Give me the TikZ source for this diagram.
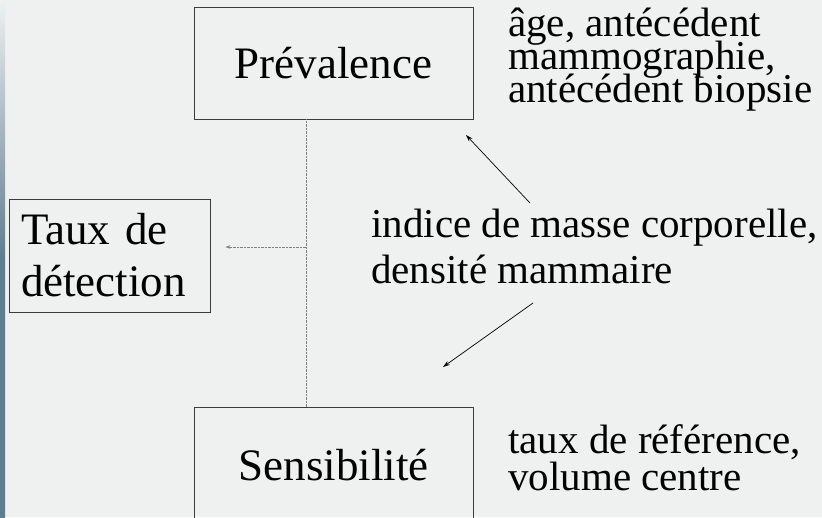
\documentclass[tikz,border=0pt]{standalone}
\usepackage{fontspec}
\setmainfont{Liberation Serif}
\usetikzlibrary{arrows.meta}

\definecolor{fond}{RGB}{238,241,240}
\definecolor{bord}{RGB}{95,125,145}
\definecolor{trait}{RGB}{60,60,60}
\newcommand{\fsz}[2]{\fontsize{#1}{#2}\selectfont\lineskiplimit=-50pt}

\tikzset{
  boite/.style={draw=trait, line width=0.8pt, inner sep=0pt},
  texte/.style={inner sep=0pt, align=left, anchor=base west},
  fleche/.style={line width=0.7pt, -{Stealth[length=7pt,width=4.5pt]}},
  pointille/.style={draw=gray, line width=0.5pt, dash pattern=on 0.7pt off 0.7pt}
}

\begin{document}
\begin{tikzpicture}[x=1pt, y=-1pt]
    % fond
    \useasboundingbox (0,0) rectangle (822,517);
    \clip (0,0) rectangle (822,517);
    \fill[fond] (0,0) rectangle (822,517);
    \shade[top color=fond, bottom color=bord, middle color=bord] (0,0) rectangle (5,517);

    % boites
    \node[boite, minimum width=279pt, minimum height=112pt, font=\fsz{45}{52}] (prev) at (333.5,63) {Prévalence};
    \node[boite, minimum width=279pt, minimum height=116pt, font=\fsz{45}{52}] (sens) at (333.5,465) {Sensibilité};
    \node[boite, text width=177pt, align=left, inner xsep=12pt, minimum height=113pt, font=\fsz{45}{52}] (taux) at (109.5,255.5) {Taux de\\détection};

    % facteurs (base = derniere ligne)
    \node[texte, font=\fsz{41}{33}] (age) at (508,102) {âge, antécédent\\mammographie,\\antécédent biopsie};
    \node[texte, font=\fsz{41}{46}] (imc) at (371,283) {indice de masse corporelle,\\densité mammaire};
    \node[texte, font=\fsz{41}{37}] (ref) at (508,490) {taux de référence,\\volume centre};

    % liens
    \coordinate (jct) at (306,247);
    \draw[pointille] (prev.south -| jct) -- (sens.north -| jct);
    \draw[pointille, -{Stealth[length=5pt,width=3.5pt]}, shorten >=15pt] (jct) -- (taux.east |- jct);

    \coordinate (a1s) at (530,203);
    \coordinate (a1e) at (466,135);
    \coordinate (a2s) at (533,303);
    \coordinate (a2e) at (443,367);
    \draw[fleche] (a1s) -- (a1e);
    \draw[fleche] (a2s) -- (a2e);
\end{tikzpicture}
\end{document}
